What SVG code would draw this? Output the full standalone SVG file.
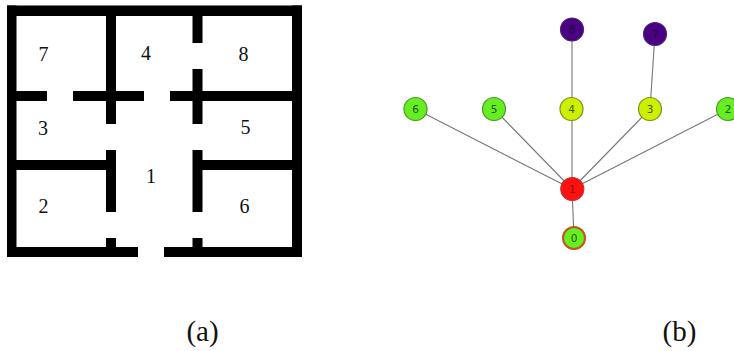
<svg xmlns="http://www.w3.org/2000/svg" width="734" height="351" viewBox="0 0 734 351">
<style>
.w{fill:#000}
.t{font-family:"Liberation Serif","Times New Roman",serif;font-size:20px;fill:#111;text-anchor:middle}
.c{font-family:"DejaVu Sans",sans-serif;font-size:10.500px;text-anchor:middle}
.e{stroke:#777;stroke-width:1.100;fill:none}
.g{fill:#66ee22;stroke:#4a9a22;stroke-width:1.200}
.y{fill:#ccf000;stroke:#7f8f20;stroke-width:1.200}
.p{fill:#4b0082;stroke:#4a2a7a;stroke-width:1.200}
</style>
<rect width="734" height="351" fill="#fff"/>
<g id="plan">
<rect class="w" x="7" y="5.500" width="295" height="10.500"/>
<rect class="w" x="7" y="5.500" width="9.500" height="251.500"/>
<rect class="w" x="292" y="5.500" width="10" height="251.500"/>
<rect class="w" x="7" y="247" width="131" height="10"/>
<rect class="w" x="164" y="247" width="138" height="10"/>
<rect class="w" x="106" y="16" width="10" height="108"/>
<rect class="w" x="106" y="150" width="10" height="62"/>
<rect class="w" x="106" y="238" width="10" height="9"/>
<rect class="w" x="192.500" y="16" width="10" height="27"/>
<rect class="w" x="192.500" y="69" width="10" height="55"/>
<rect class="w" x="192.500" y="150" width="10" height="62"/>
<rect class="w" x="192.500" y="238" width="10" height="9"/>
<rect class="w" x="16" y="91" width="31" height="10"/>
<rect class="w" x="73" y="91" width="71" height="10"/>
<rect class="w" x="170" y="91" width="122" height="10"/>
<rect class="w" x="16" y="160" width="90" height="10"/>
<rect class="w" x="202" y="160" width="90" height="10"/>
<text class="t" x="43.500" y="60.500">7</text>
<text class="t" x="146" y="60">4</text>
<text class="t" x="243.500" y="60.500">8</text>
<text class="t" x="43" y="135">3</text>
<text class="t" x="245.500" y="134">5</text>
<text class="t" x="151" y="183">1</text>
<text class="t" x="43.500" y="213">2</text>
<text class="t" x="244.500" y="213">6</text>
</g>
<g id="connectors">
<line class="e" x1="572" y1="29.500" x2="572" y2="109"/>
<line class="e" x1="655" y1="34" x2="650" y2="109"/>
<line class="e" x1="572" y1="109" x2="572" y2="189"/>
<line class="e" x1="650" y1="109" x2="572" y2="189"/>
<line class="e" x1="415.500" y1="109" x2="572" y2="189"/>
<line class="e" x1="494" y1="109" x2="572" y2="189"/>
<line class="e" x1="728" y1="109" x2="572" y2="189"/>
<line class="e" x1="572" y1="189" x2="574" y2="238"/>
</g>
<g id="node-8"><circle class="p" cx="572" cy="29.500" r="11.500"/><text class="c" x="572" y="33.300" fill="#1c0d44">8</text></g>
<g id="node-7"><circle class="p" cx="655" cy="34" r="11.500"/><text class="c" x="655" y="37.800" fill="#1c0d44">7</text></g>
<g id="node-6"><circle class="g" cx="415.500" cy="109" r="11.500"/><text class="c" x="415.500" y="112.800" fill="#1f5a10">6</text></g>
<g id="node-5"><circle class="g" cx="494" cy="109" r="11.500"/><text class="c" x="494" y="112.800" fill="#1f5a10">5</text></g>
<g id="node-4"><circle class="y" cx="571.500" cy="109" r="11.500"/><text class="c" x="571.500" y="112.800" fill="#4a5a10">4</text></g>
<g id="node-3"><circle class="y" cx="650" cy="109" r="11.500"/><text class="c" x="650" y="112.800" fill="#4a5a10">3</text></g>
<g id="node-2"><circle class="g" cx="728" cy="109" r="11.500"/><text class="c" x="728" y="112.800" fill="#1f5a10">2</text></g>
<g id="node-1"><circle cx="572.300" cy="189" r="11.500" fill="#ff1010" stroke="#c03030" stroke-width="1.200"/><text class="c" x="572.300" y="192.800" fill="#8a1010">1</text></g>
<g id="node-0"><circle cx="574" cy="238" r="11" fill="#66ee22" stroke="#c8501a" stroke-width="2"/><text class="c" x="574" y="241.800" fill="#1f5a10">0</text></g>
<g id="captions">
<text class="t" x="202.500" y="341" style="font-size:29px">(a)</text>
<text class="t" x="679.500" y="341" style="font-size:29px">(b)</text>
</g>
</svg>
